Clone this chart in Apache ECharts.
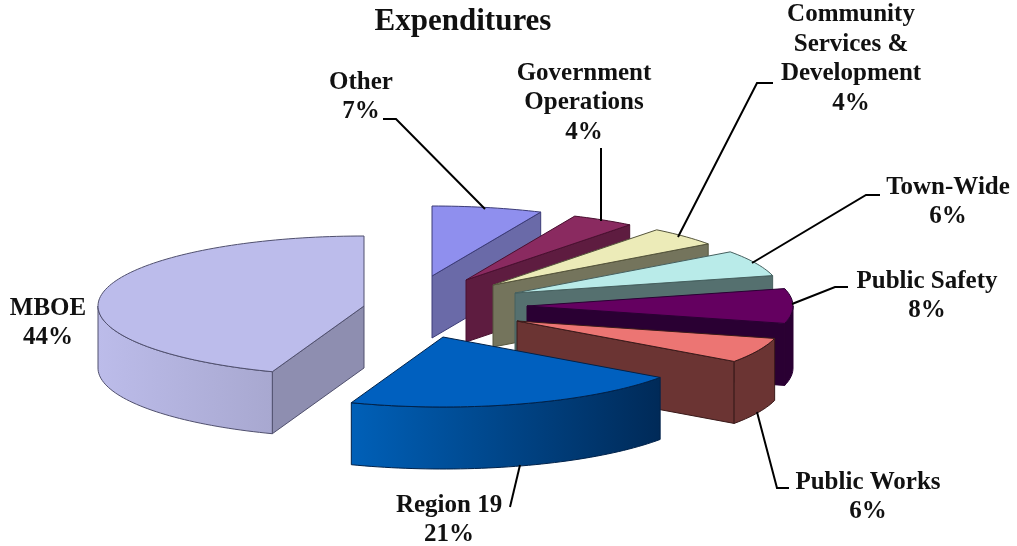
<!DOCTYPE html>
<html><head><meta charset="utf-8">
<style>html,body{margin:0;padding:0;background:#fff}#c{width:1017px;height:546px}</style>
<script src="https://cdn.jsdelivr.net/npm/echarts@6/dist/echarts.min.js"></script>
</head><body><div id="c"></div>
<script>
// --- data (clockwise from 12 o'clock); labels show these rounded to whole percents ---
const categories = ['Other','Government\nOperations','Community\nServices &\nDevelopment','Town-Wide','Public Safety','Public Works','Region 19','MBOE'];
const shares = [6.7,3.85,4.45,6,8,5.8,20.8,44.4];

// --- layout and style, separate from the data ---
const RX = 266, RY = 70, DEPTH = 62;
const explodedX = [432,466,493,515,527,517,443,364];
const explodedY = [276,280,285,293,306,321,337,306];
const topColors  = ['#8f8fee','#8a2a60','#ecebb8','#b9ebe9','#640060','#ec7573','#0060bf','#bcbceb'];
const sideColors = ['#6a6aa8','#5e1c40','#74745c','#55706f','#2a0033','#6b3433','#003468','#8e8eb0'];
const wallFrom   = ['#6a6aa8','#5e1c40','#74745c','#55706f','#2a0033','#6b3433','#0060b8','#bcbcea'];
const wallTo     = ['#6a6aa8','#5e1c40','#74745c','#55706f','#2a0033','#6b3433','#002a58','#a8a8d0'];
const strokes    = ['#3c3c78','#4a1030','#55553c','#46605f','#2a0033','#3a1a1a','#00224a','#50506e'];
const drawOrder  = [0,1,2,3,4,5,7,6];
const labelX = [361,584,851,948,927,868,449,48];
const labelY = [97,103,59,202,296,497,520,323];
const leaders = [
  [[383,119],[396,119],[485,209]],
  [[601,148],[601,221]],
  [[773,83],[757,83],[678,237]],
  [[880,195],[866,195],[752,263]],
  [[848,287],[835,287],[792,304]],
  [[757,412],[777,488],[789,488]],
  [[520,465],[510,507]],
  []
];

const total = shares.reduce((a,b)=>a+b,0);
const starts = []; let run = 0;
shares.forEach(v=>{starts.push(run/total*360); run+=v;});

function pt(i,deg,dz){
  const r = deg*Math.PI/180;
  return [explodedX[i]+RX*Math.sin(r), explodedY[i]-RY*Math.cos(r)+(dz||0)];
}
function arc(i,a,b,dz){
  const out=[], n=Math.max(2,Math.ceil((b-a)/1.5));
  for(let k=0;k<=n;k++) out.push(pt(i,a+(b-a)*k/n,dz));
  return out;
}
function poly(points,fill,stroke){
  return {type:'polygon',shape:{points},style:{fill,stroke,lineWidth:1,lineJoin:'round'}};
}
function renderSlice(params,api){
  const i = api.value(0);
  const a0 = starts[i], a1 = a0+api.value(1)/total*360;
  const apex=[explodedX[i],explodedY[i]], apexB=[apex[0],apex[1]+DEPTH];
  const kids=[];
  if(a0>180&&a0<360) kids.push(poly([apex,pt(i,a0),pt(i,a0,DEPTH),apexB],sideColors[i],strokes[i]));
  if(a1>0&&a1<180) kids.push(poly([apex,pt(i,a1),pt(i,a1,DEPTH),apexB],sideColors[i],strokes[i]));
  const w0=Math.max(a0,90), w1=Math.min(a1,270);
  if(w1>w0){
    const fill=new echarts.graphic.LinearGradient(0,0,1,0,[
      {offset:0,color:wallFrom[i]},
      {offset:1,color:wallTo[i]}]);
    const top=arc(i,w0,w1,0), bot=arc(i,w0,w1,DEPTH).reverse();
    kids.push(poly(top.concat(bot),fill,strokes[i]));
  }
  kids.push(poly([apex].concat(arc(i,a0,a1,0)),topColors[i],strokes[i]));
  return {type:'group',children:kids};
}
function renderLabel(params,api){
  const i=api.value(0), kids=[];
  if(leaders[i].length) kids.push({type:'polyline',shape:{points:leaders[i]},style:{fill:null,stroke:'#000',lineWidth:2}});
  kids.push({type:'text',style:{
    text:categories[i]+'\n'+Math.round(api.value(1))+'%',x:labelX[i],y:labelY[i],
    align:'center',verticalAlign:'middle',
    font:'bold 25px "Liberation Serif"',lineHeight:29.5,fill:'#111'}});
  return {type:'group',children:kids};
}
const chart=echarts.init(document.getElementById('c'));
chart.setOption({
  animation:false,
  backgroundColor:'#fff',
  title:{text:'Expenditures',left:458,top:1,textAlign:'center',
    textStyle:{fontFamily:'Liberation Serif',fontWeight:'bold',fontSize:31,color:'#111'}},
  series:[
    {type:'custom',coordinateSystem:'none',renderItem:renderSlice,silent:true,
     data:drawOrder.map(i=>[i,shares[i]])},
    {type:'custom',coordinateSystem:'none',renderItem:renderLabel,silent:true,z:5,
     data:shares.map((v,i)=>[i,v])}
  ]
});
</script></body></html>
